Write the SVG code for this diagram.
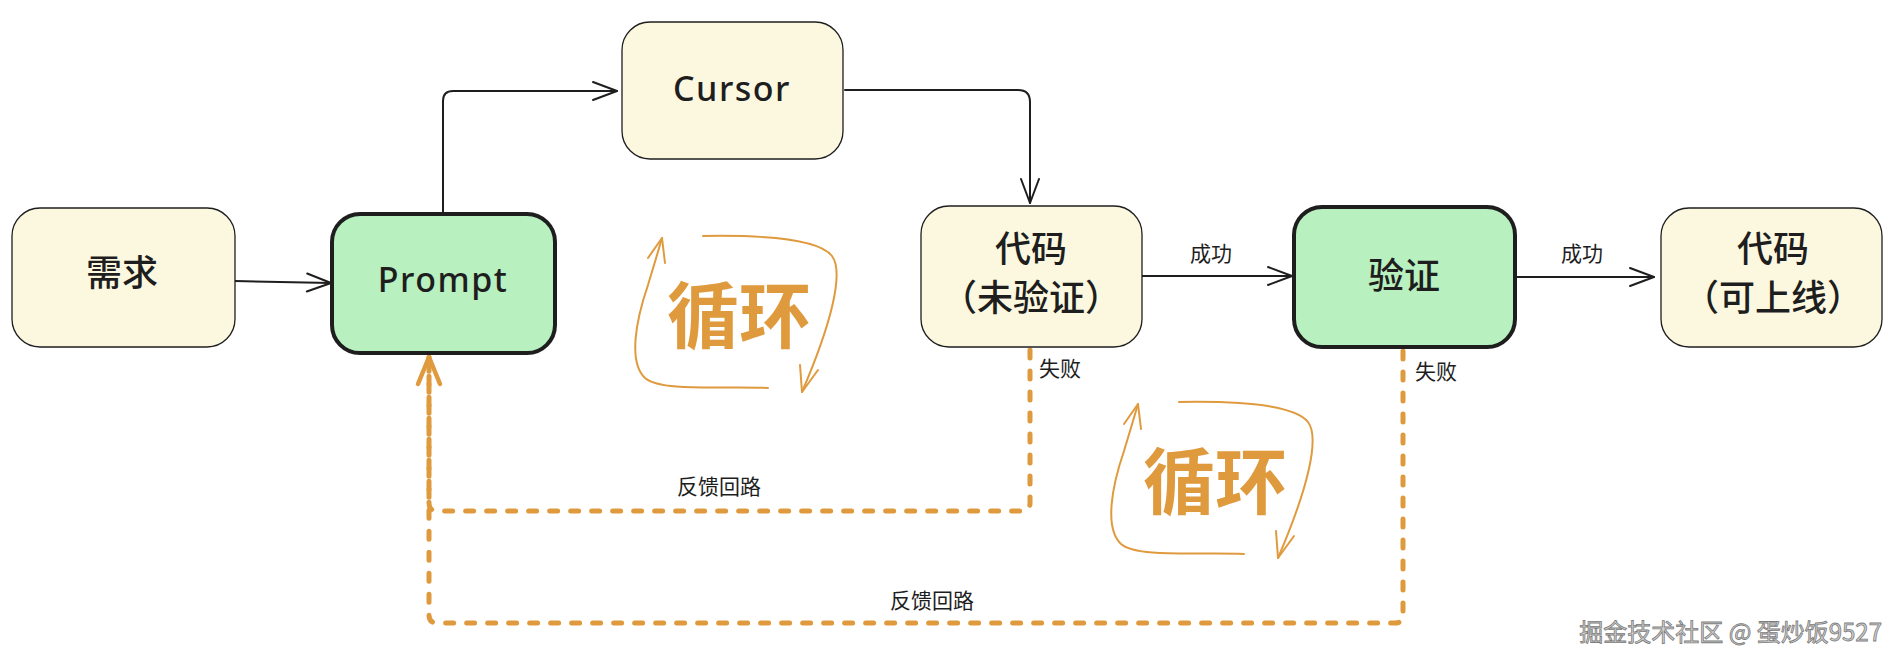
<svg xmlns="http://www.w3.org/2000/svg" xmlns:xlink="http://www.w3.org/1999/xlink" width="1902" height="664" viewBox="0 0 1902 664">
  <style>
    .cream { fill: #fcf8e0; stroke: #1e1e1e; stroke-width: 1.3; }
    .green { fill: #b8f0c0; stroke: #1e1e1e; stroke-width: 4; }
    .cjk { font-family: "Noto Sans CJK SC", "Noto Sans", sans-serif; fill: #1e1e1e; text-anchor: middle; }
    .big { font-size: 36px; font-weight: 500; }
    .lat { font-family: "Noto Sans", "Liberation Sans", sans-serif; font-size: 34px; font-weight: 500; fill: #1e1e1e; text-anchor: middle; letter-spacing: 1.5px; }
    .small { font-size: 21px; }
    .line { fill: none; stroke: #1e1e1e; stroke-width: 2; stroke-linecap: round; stroke-linejoin: round; }
    .dash { fill: none; stroke: #e09a3e; stroke-width: 5; stroke-linecap: round; stroke-dasharray: 8 13; }
    .loopline { fill: none; stroke: #e09a3e; stroke-width: 2; stroke-linecap: round; stroke-linejoin: round; }
    .looptext { font-family: "Noto Sans CJK SC", sans-serif; font-size: 72px; font-weight: 600; fill: #e09a3e; text-anchor: middle; }
    .wm { font-family: "Noto Sans CJK SC", sans-serif; font-size: 24px; fill: #d4d4d4; stroke: #7c7c7c; stroke-width: 0.8; text-anchor: end; }
  </style>
  <defs>
    <marker id="arrow" viewBox="0 0 28 22" markerWidth="28" markerHeight="22" refX="26" refY="11" orient="auto" markerUnits="userSpaceOnUse" overflow="visible">
      <path d="M2,2 L26,11 L2,20" fill="none" stroke="#1e1e1e" stroke-width="2" stroke-linecap="round" stroke-linejoin="round"/>
    </marker>
    <marker id="oarrow" viewBox="0 0 32 26" markerWidth="32" markerHeight="26" refX="29" refY="13" orient="auto" markerUnits="userSpaceOnUse" overflow="visible">
      <path d="M2,2 L29,13 L2,24" fill="none" stroke="#e09a3e" stroke-width="4.5" stroke-linecap="round" stroke-linejoin="round"/>
    </marker>
    <g id="loop">
      <path class="loopline" d="M703,236 C760,235 818,238 832,256 C844,272 832,322 802,392"/>
      <path class="loopline" d="M800,365 L802,392 L818,370"/>
      <path class="loopline" d="M768,388 C720,386 662,392 645,378 C628,362 636,320 648,285 C654,265 658,252 662,238"/>
      <path class="loopline" d="M648,258 L662,238 L665,263"/>
      <text class="looptext" x="739" y="342">循环</text>
    </g>
  </defs>

  <g id="connectors">
    <path class="line" d="M235,281 L331,283" marker-end="url(#arrow)"/>
    <path class="line" d="M443,212 V101 Q443,91 453,91 H617" marker-end="url(#arrow)"/>
    <path class="line" d="M845,90 H1018 Q1030,90 1030,102 V203" marker-end="url(#arrow)"/>
    <path class="line" d="M1142,276 H1292" marker-end="url(#arrow)"/>
    <path class="line" d="M1517,277 H1654" marker-end="url(#arrow)"/>
    <path class="dash" d="M1030,350 V503 Q1030,511 1022,511 H437 Q429,511 429,503 V357"/>
    <path class="dash" d="M1403,351 V615 Q1403,623 1395,623 H437 Q429,623 429,615 V357" marker-end="url(#oarrow)"/>
    <text class="cjk small" x="1211" y="261">成功</text>
    <text class="cjk small" x="1582" y="261">成功</text>
    <text class="cjk small" x="1039" y="376" style="text-anchor:start">失败</text>
    <text class="cjk small" x="1415" y="379" style="text-anchor:start">失败</text>
    <text class="cjk small" x="719" y="494">反馈回路</text>
    <text class="cjk small" x="932" y="608">反馈回路</text>
  </g>

  <g id="node-demand">
    <rect class="cream" x="12" y="208" width="223" height="139" rx="28"/>
    <text class="cjk big" x="122" y="286">需求</text>
  </g>
  <g id="node-prompt">
    <rect class="green" x="332" y="214" width="223" height="139" rx="28"/>
    <text class="lat" x="443" y="292">Prompt</text>
  </g>
  <g id="node-cursor">
    <rect class="cream" x="622" y="22" width="221" height="137" rx="28"/>
    <text class="lat" x="732" y="101">Cursor</text>
  </g>
  <g id="node-code-unverified">
    <rect class="cream" x="921" y="206" width="221" height="141" rx="28"/>
    <text class="cjk big" x="1031" y="262">代码</text>
    <text class="cjk big" x="1031" y="311">（未验证）</text>
  </g>
  <g id="node-verify">
    <rect class="green" x="1294" y="207" width="221" height="140" rx="28"/>
    <text class="cjk big" x="1404" y="289">验证</text>
  </g>
  <g id="node-code-release">
    <rect class="cream" x="1661" y="208" width="221" height="139" rx="28"/>
    <text class="cjk big" x="1773" y="262">代码</text>
    <text class="cjk big" x="1773" y="311">（可上线）</text>
  </g>

  <g id="loop-1">
    <use xlink:href="#loop" href="#loop"/>
  </g>
  <g id="loop-2">
    <use xlink:href="#loop" href="#loop" transform="translate(476,166)"/>
  </g>

  <text class="wm" x="1882" y="641">掘金技术社区 @ 蛋炒饭9527</text>
</svg>
